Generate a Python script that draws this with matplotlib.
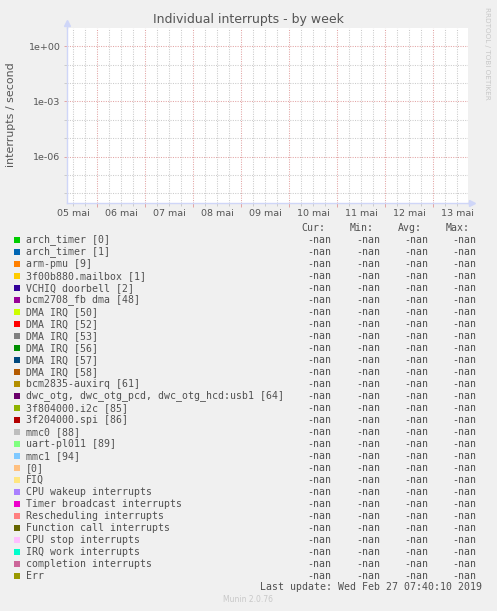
import numpy as np
import matplotlib.pyplot as plt
from matplotlib.patches import Rectangle
from matplotlib.ticker import FixedLocator, FuncFormatter, NullFormatter

# Figure size in pixels (munin graph)
W, H = 497, 611

# Series shown in the legend
labels = [
    'arch_timer [0]', 'arch_timer [1]', 'arm-pmu [9]', '3f00b880.mailbox [1]',
    'VCHIQ doorbell [2]', 'bcm2708_fb dma [48]', 'DMA IRQ [50]', 'DMA IRQ [52]',
    'DMA IRQ [53]', 'DMA IRQ [56]', 'DMA IRQ [57]', 'DMA IRQ [58]',
    'bcm2835-auxirq [61]', 'dwc_otg, dwc_otg_pcd, dwc_otg_hcd:usb1 [64]',
    '3f804000.i2c [85]', '3f204000.spi [86]', 'mmc0 [88]', 'uart-pl011 [89]',
    'mmc1 [94]', '[0]', 'FIQ', 'CPU wakeup interrupts', 'Timer broadcast interrupts',
    'Rescheduling interrupts', 'Function call interrupts', 'CPU stop interrupts',
    'IRQ work interrupts', 'completion interrupts', 'Err',
]
colors = [
    '#00CC00', '#0066B3', '#FF8000', '#FFCC00', '#330099', '#990099', '#CCFF00',
    '#FF0000', '#808080', '#008F00', '#00487D', '#B35A00', '#B38F00', '#6B006B',
    '#8FB300', '#B30000', '#BEBEBE', '#80FF80', '#80C9FF', '#FFC080', '#FFE680',
    '#AA80FF', '#EE00CC', '#FF8080', '#666600', '#FFBFFF', '#00FFCC', '#CC6699',
    '#999900',
]

# Every value in the graph is NaN (no data recorded)
nan = np.nan
cur = [nan] * len(labels)
vmin = [nan] * len(labels)
vavg = [nan] * len(labels)
vmax = [nan] * len(labels)

# x axis: days counted from 05 mai 00:00
day_labels = ['05 mai', '06 mai', '07 mai', '08 mai', '09 mai',
              '10 mai', '11 mai', '12 mai', '13 mai']
t_start, t_end = 0.3625, 8.717

fig = plt.figure(figsize=(W / 100, H / 100), dpi=100, facecolor='#F0F0F0')

def fx(px):
    return px / W

def fy(py):
    return 1 - py / H

# plot area
left, right, top, bottom = 66.7, 467.7, 28.0, 203.0
ax = fig.add_axes([fx(left), fy(bottom), (right - left) / W, (bottom - top) / H])
ax.set_facecolor('white')

for i, lab in enumerate(labels):
    ax.plot([t_start, t_end], [cur[i], cur[i]], color=colors[i], label=lab)

ax.set_yscale('log')
ax.set_xlim(t_start, t_end)
ax.set_ylim(10 ** -8.53, 10 ** 1)

major_col = '#E2A4A4'
minor_col = '#CBCBCB'
axis_col = '#CFD6F8'
text_col = '#555555'

# y ticks
ax.yaxis.set_major_locator(FixedLocator([1e-6, 1e-3, 1e0]))
ax.yaxis.set_minor_locator(FixedLocator([1e-8, 1e-7, 1e-5, 1e-4, 1e-2, 1e-1]))
ax.yaxis.set_major_formatter(FuncFormatter(lambda v, p: '%.0e' % v))
ax.yaxis.set_minor_formatter(NullFormatter())

# x ticks: midnight lines, labels at noon
ax.xaxis.set_major_locator(FixedLocator(np.arange(1, 9)))
ax.xaxis.set_minor_locator(FixedLocator([d + q for d in range(0, 9) for q in (0.25, 0.5, 0.75)]))
ax.xaxis.set_major_formatter(NullFormatter())
for k, lab in enumerate(day_labels):
    ax.text(k + 0.5, -0.035, lab, transform=ax.get_xaxis_transform(),
            ha='center', va='top', fontsize=6.8, color=text_col)

ax.grid(which='major', color=major_col, linestyle=(0, (1, 1.3)), linewidth=0.75)
ax.grid(which='minor', color=minor_col, linestyle=(0, (1, 1.3)), linewidth=0.75)

ax.tick_params(axis='both', which='both', length=2.5, width=0.7, pad=2,
               labelsize=6.8, labelcolor=text_col)
ax.tick_params(axis='x', which='major', color=major_col, length=3)
ax.tick_params(axis='x', which='minor', color=minor_col, length=2)
ax.tick_params(axis='y', which='major', color=major_col)
ax.tick_params(axis='y', which='minor', color=minor_col)

for s in ('top', 'right'):
    ax.spines[s].set_visible(False)
for s in ('left', 'bottom'):
    ax.spines[s].set_color(axis_col)
    ax.spines[s].set_linewidth(1.0)
    ax.spines[s].set_zorder(5)

# axis arrows
ax.plot([0, 0], [1, 1 + 5 / 175], transform=ax.transAxes, color=axis_col,
        lw=1.0, clip_on=False)
ax.plot([0], [1 + 5 / 175], transform=ax.transAxes, marker='^', ms=5,
        color=axis_col, clip_on=False)
ax.plot([1, 1 + 4 / 401], [0, 0], transform=ax.transAxes, color=axis_col,
        lw=1.0, clip_on=False)
ax.plot([1 + 4 / 401], [0], transform=ax.transAxes, marker='>', ms=5,
        color=axis_col, clip_on=False)

# titles
fig.text(fx(248), fy(19), 'Individual interrupts - by week', ha='center',
         va='center', fontsize=9, color=text_col)
fig.text(fx(11), fy(115), 'interrupts / second', rotation=90, ha='center',
         va='center', fontsize=7.9, color=text_col)
fig.text(fx(487), fy(53), 'RRDTOOL / TOBI OETIKER', rotation=270, ha='center',
         va='center', fontsize=5.2, color='#C8C8C8')

# legend table
mono = 'DejaVu Sans Mono'
fs = 7.1
leg_col = '#505050'
col_right = [331.7, 380.0, 428.0, 476.0]
headers = ['Cur:', 'Min:', 'Avg:', 'Max:']
for xr, h in zip(col_right, headers):
    fig.text(fx(xr - 6.5), fy(227.7), h, ha='right', va='center',
             family=mono, fontsize=fs, color=leg_col)

def fmt(v):
    return '-nan' if np.isnan(v) else '%.2f' % v

for i, lab in enumerate(labels):
    yc = 240 + 12 * i
    fig.patches.append(Rectangle((fx(14), fy(yc + 3)), 6 / W, 6 / H,
                                 transform=fig.transFigure, facecolor=colors[i],
                                 edgecolor='none'))
    fig.text(fx(26), fy(yc), lab, ha='left', va='center', family=mono,
             fontsize=fs, color=leg_col)
    for xr, v in zip(col_right, (cur[i], vmin[i], vavg[i], vmax[i])):
        fig.text(fx(xr), fy(yc), fmt(v), ha='right', va='center', family=mono,
                 fontsize=fs, color=leg_col)

fig.text(fx(482.3), fy(587), 'Last update: Wed Feb 27 07:40:10 2019',
         ha='right', va='center', family=mono, fontsize=fs, color=leg_col)
fig.text(fx(248), fy(600), 'Munin 2.0.76', ha='center', va='center',
         fontsize=5.5, color='#C8C8C8')

fig.savefig('out.png', dpi=100, facecolor=fig.get_facecolor())
